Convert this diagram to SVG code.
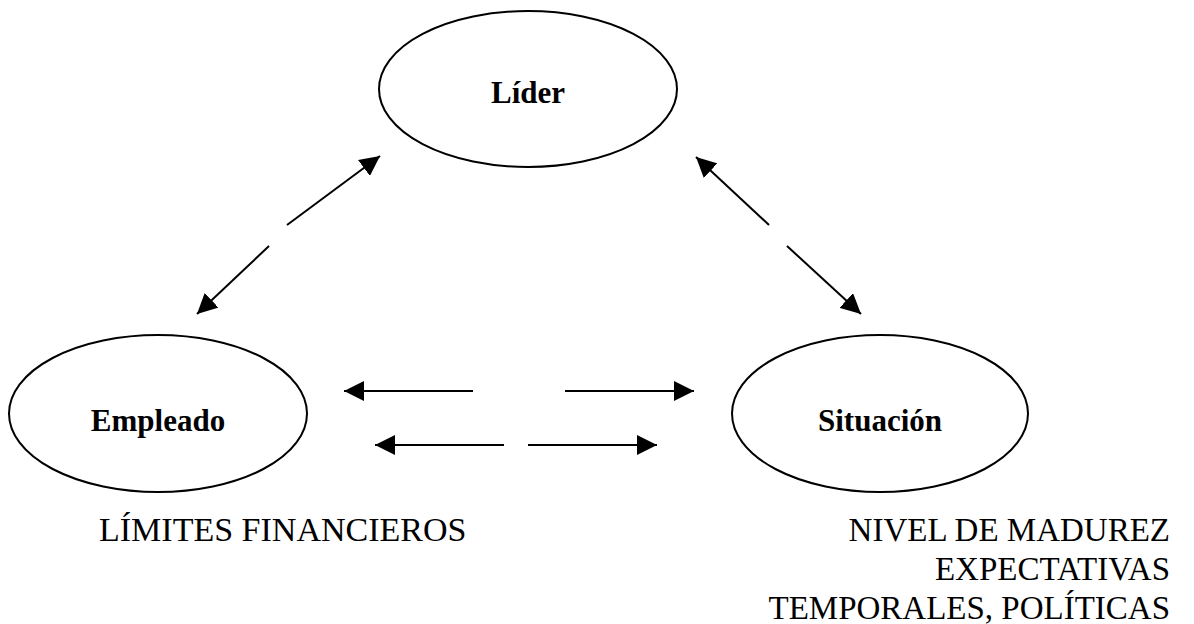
<svg xmlns="http://www.w3.org/2000/svg" width="1194" height="624" viewBox="0 0 1194 624">
<style>
.node{fill:#fff;stroke:#000;stroke-width:2}
.lbl{font-family:"Liberation Serif","Times New Roman",serif;font-weight:bold;font-size:31px;fill:#000;text-anchor:middle}
.note{font-family:"Liberation Serif","Times New Roman",serif;font-size:33px;fill:#000}
.conn line{stroke:#000;stroke-width:2;fill:none;marker-end:url(#ah)}
</style>
<defs>
<marker id="ah" markerUnits="userSpaceOnUse" markerWidth="20" markerHeight="20" refX="20" refY="10" orient="auto" viewBox="0 0 20 20">
<path d="M0,0 L20,10 L0,20 z" fill="#000"/>
</marker>
</defs>
<rect width="1194" height="624" fill="#fff"/>
<g id="lider">
<ellipse class="node" cx="528" cy="89" rx="149" ry="78"/>
<text class="lbl" x="528" y="103">Líder</text>
</g>
<g id="empleado">
<ellipse class="node" cx="158" cy="413.5" rx="149" ry="78.5"/>
<text class="lbl" x="158" y="431">Empleado</text>
</g>
<g id="situacion">
<ellipse class="node" cx="880" cy="413.5" rx="148" ry="78.5"/>
<text class="lbl" x="880" y="431">Situación</text>
</g>
<g id="connectors" class="conn">
<line x1="287" y1="225" x2="380" y2="156"/>
<line x1="269" y1="246" x2="197" y2="314"/>
<line x1="769" y1="225" x2="696" y2="157"/>
<line x1="787" y1="246" x2="861" y2="314"/>
<line x1="473" y1="391" x2="344" y2="391"/>
<line x1="565" y1="391" x2="694" y2="391"/>
<line x1="504" y1="445" x2="375" y2="445"/>
<line x1="528" y1="445" x2="657" y2="445"/>
</g>
<g id="notes">
<text class="note" x="99" y="541" style="font-size:34px">LÍMITES FINANCIEROS</text>
<text class="note" text-anchor="end" x="1170" y="541">NIVEL DE MADUREZ</text>
<text class="note" text-anchor="end" x="1170" y="580">EXPECTATIVAS</text>
<text class="note" text-anchor="end" x="1170" y="619">TEMPORALES, POLÍTICAS</text>
</g>
</svg>
